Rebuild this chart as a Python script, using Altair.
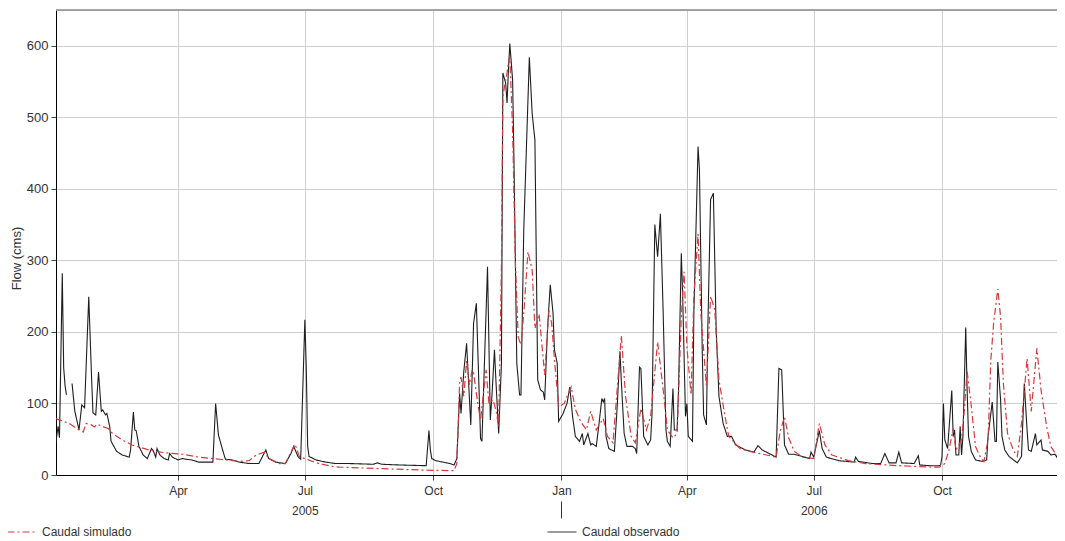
import pandas as pd
import altair as alt

# ---- data (day = days since 2005-01-01) ----
# Caudal observado: first block (before a short gap in the record)
obs_a_day = [2, 4, 5, 7, 8, 9, 10]
obs_a_val = [40, 68, 52, 282, 150, 125, 112]

# Caudal observado: rest of the record
obs_b_day = [14, 16, 19, 21, 23, 26, 28, 29, 31, 33, 35, 36, 38, 39, 41, 42, 46, 50, 55, 56,
             58, 59, 60, 62, 65, 68, 71, 72, 74, 75, 77, 80, 83, 84, 86, 90, 93, 96, 100, 105,
             115, 117, 119, 122, 124, 129, 134, 141, 148, 153, 155, 160, 167, 171, 173, 176, 178, 181, 182, 183,
             184, 189, 196, 203, 213, 230, 233, 236, 249, 268, 270, 271, 272, 275, 285, 288, 290, 292, 293, 295,
             297, 300, 302, 304, 307, 308, 312, 314, 315, 317, 318, 320, 322, 323, 325, 326, 327, 328, 330, 331,
             333, 335, 336, 338, 342, 344, 346, 348, 350, 352, 353, 355, 357, 359, 360, 362, 363, 366, 369, 371,
             373, 375, 378, 380, 381, 384, 386, 387, 390, 392, 394, 395, 396, 397, 399, 403, 405, 407, 408, 410,
             412, 416, 418, 419, 421, 422, 424, 427, 429, 430, 432, 434, 436, 438, 440, 441, 443, 445, 446, 448,
             449, 451, 452, 454, 455, 456, 459, 460, 463, 464, 466, 467, 469, 470, 472, 474, 476, 478, 481, 484,
             487, 490, 497, 503, 506, 509, 519, 521, 523, 525, 528, 532, 543, 544, 546, 550, 552, 555, 564, 575,
             576, 578, 588, 594, 597, 600, 605, 607, 609, 618, 621, 622, 629, 636, 637, 638, 639, 640, 642, 645,
             646, 647, 648, 650, 651, 652, 653, 655, 656, 657, 659, 662, 667, 670, 671, 674, 676, 677, 678, 680,
             681, 683, 686, 692, 695, 697, 699, 700, 702, 705, 706, 709, 710, 714, 716, 719, 721, 724, 726]
obs_b_val = [128, 89, 63, 98, 94, 249, 137, 87, 84, 144, 89, 91, 84, 86, 68, 47, 33, 28, 25, 35,
             88, 63, 62, 40, 28, 23, 37, 35, 25, 37, 28, 23, 21, 30, 25, 21, 23, 22, 21, 18,
             18, 100, 56, 35, 22, 21, 18, 16, 16, 35, 23, 18, 16, 30, 40, 26, 22, 217, 150, 40,
             26, 21, 18, 16, 16, 15, 17, 15, 14, 13, 62, 35, 23, 20, 16, 14, 23, 114, 86, 145,
             184, 70, 212, 240, 51, 47, 291, 77, 105, 175, 133, 58, 156, 562, 548, 520, 566, 603, 552, 436,
             156, 112, 112, 343, 584, 506, 468, 133, 119, 116, 105, 203, 266, 226, 175, 156, 75, 85, 100, 123,
             82, 54, 47, 58, 42, 58, 42, 44, 40, 72, 107, 102, 107, 54, 37, 33, 95, 173, 130, 58,
             40, 40, 37, 30, 151, 149, 54, 42, 49, 86, 350, 305, 365, 226, 63, 47, 40, 121, 63, 63,
             119, 310, 249, 82, 100, 54, 47, 226, 459, 427, 175, 84, 70, 203, 385, 394, 203, 110, 72, 54,
             54, 42, 35, 32, 41, 35, 25, 149, 147, 42, 29, 29, 23, 32, 25, 62, 37, 25, 20, 18,
             25, 19, 16, 16, 30, 17, 17, 32, 17, 16, 27, 14, 13, 13, 14, 26, 100, 49, 37, 118,
             54, 63, 28, 28, 68, 28, 54, 206, 119, 54, 33, 21, 19, 21, 54, 102, 47, 47, 158, 105,
             54, 35, 26, 17, 26, 128, 63, 35, 33, 58, 42, 49, 35, 33, 28, 29, 23, 35, 37]

# Caudal simulado
sim_day = [2, 12, 19, 22, 24, 28, 30, 32, 37, 40, 43, 50, 57, 69, 81, 93, 105, 120, 134, 141,
           146, 152, 155, 163, 167, 171, 174, 177, 182, 191, 201, 206, 234, 263, 288, 290, 291, 292, 293, 295,
           297, 299, 301, 302, 305, 307, 311, 313, 316, 318, 320, 322, 323, 325, 326, 327, 328, 330, 332, 334,
           336, 338, 341, 344, 346, 349, 353, 356, 358, 360, 362, 363, 367, 372, 375, 379, 383, 386, 390, 395,
           398, 402, 408, 411, 415, 418, 422, 426, 429, 434, 438, 441, 445, 448, 451, 453, 455, 458, 460, 463,
           465, 469, 472, 475, 478, 482, 485, 493, 500, 512, 519, 522, 525, 528, 532, 538, 546, 550, 554, 559,
           571, 583, 607, 631, 636, 640, 643, 646, 648, 652, 654, 656, 659, 662, 666, 668, 671, 673, 675, 678,
           680, 682, 685, 689, 692, 695, 699, 702, 706, 709, 713, 716, 720, 723, 726]
sim_val = [79, 72, 63, 60, 72, 70, 67, 71, 67, 65, 58, 49, 42, 35, 31, 29, 25, 22, 19, 20,
           28, 32, 23, 16, 16, 32, 43, 26, 22, 16, 12, 11, 9, 7, 6, 16, 71, 130, 137, 110,
           160, 126, 147, 143, 100, 77, 147, 100, 105, 91, 68, 296, 529, 552, 562, 576, 585, 482, 296, 193,
           182, 226, 312, 287, 205, 225, 140, 230, 212, 161, 119, 95, 100, 123, 92, 74, 63, 89, 63, 79,
           54, 45, 195, 110, 54, 45, 93, 63, 82, 186, 119, 63, 52, 58, 221, 284, 179, 112, 249, 337,
           226, 124, 250, 231, 133, 86, 54, 37, 33, 28, 25, 62, 81, 52, 33, 25, 23, 72, 42, 28,
           20, 16, 13, 11, 11, 16, 35, 65, 35, 49, 91, 145, 96, 40, 23, 19, 49, 161, 212, 260,
           221, 128, 58, 35, 26, 72, 163, 89, 177, 119, 68, 40, 28, 23, 22]

SIM = "Caudal simulado"
OBS = "Caudal observado"
y_ticks = [0, 100, 200, 300, 400, 500, 600]

base = pd.Timestamp("2005-01-01")


def to_dates(days):
    return [(base + pd.Timedelta(days=d)).strftime("%Y-%m-%dT00:00:00") for d in days]


obs_df = pd.concat([
    pd.DataFrame({"date": to_dates(obs_a_day), "flow": obs_a_val, "seg": 0}),
    pd.DataFrame({"date": to_dates(obs_b_day), "flow": obs_b_val, "seg": 1}),
])
obs_df["series"] = OBS
sim_df = pd.DataFrame({"date": to_dates(sim_day), "flow": sim_val, "seg": 0})
sim_df["series"] = SIM

FONT = "Liberation Sans"
TXT = "#333333"

x_scale = alt.Scale(domain=[alt.DateTime(year=2005, month=1, date=3, hours=12),
                            alt.DateTime(year=2006, month=12, date=22, hours=11)])
y_scale = alt.Scale(domain=[0, 650], nice=False)

quarters = [alt.DateTime(year=2005, month=4, date=1), alt.DateTime(year=2005, month=7, date=1),
            alt.DateTime(year=2005, month=10, date=1), alt.DateTime(year=2006, month=1, date=1),
            alt.DateTime(year=2006, month=4, date=1), alt.DateTime(year=2006, month=7, date=1),
            alt.DateTime(year=2006, month=10, date=1)]

month_axis = alt.Axis(values=quarters, format="%b", title=None, orient="bottom",
                      grid=True, gridColor="#cfcfcf", gridWidth=1,
                      domainColor="#000000", domainWidth=1,
                      tickSize=5, tickColor="#444444",
                      labelFont=FONT, labelFontSize=12, labelColor=TXT, labelPadding=5,
                      labelFlush=False, labelOverlap=False)

year_axis = alt.Axis(values=[alt.DateTime(year=2005, month=7, date=1),
                             alt.DateTime(year=2006, month=1, date=1),
                             alt.DateTime(year=2006, month=7, date=1)],
                     orient="bottom", offset=26, title=None, domain=False, grid=False,
                     tickSize=17,
                     tickColor={"condition": {"test": "month(datum.value) == 0", "value": "#333333"},
                                "value": "transparent"},
                     labelExpr="month(datum.value) == 6 ? timeFormat(datum.value, '%Y') : ''",
                     labelPadding=-13, labelFont=FONT, labelFontSize=12, labelColor=TXT,
                     labelFlush=False, labelOverlap=False)

y_axis = alt.Axis(values=y_ticks, title="Flow (cms)", grid=True, gridColor="#cfcfcf", gridWidth=1,
                  domainColor="#000000", tickSize=5, tickColor="#444444",
                  labelFont=FONT, labelFontSize=13, labelColor=TXT, labelPadding=3,
                  titleFont=FONT, titleFontSize=13, titleColor=TXT, titleFontWeight="normal",
                  titleAngle=270, titleX=-40, titleY=248, titleBaseline="middle", titleAlign="center")

legend = alt.Legend(title=None, orient="none", legendX=-49, legendY=507, direction="horizontal",
                    symbolType="stroke", symbolSize=841, symbolStrokeWidth=1,
                    labelFont=FONT, labelFontSize=12, labelColor=TXT, labelOffset=5,
                    columnPadding=413)

color = alt.Color("series:N", scale=alt.Scale(domain=[SIM, OBS], range=["#d8393c", "#1e1e1e"]),
                  legend=legend)
dash = alt.StrokeDash("series:N", scale=alt.Scale(domain=[SIM, OBS], range=[[7, 3, 2, 3], [1, 0]]),
                      legend=legend)
y_enc = alt.Y("flow:Q", scale=y_scale, axis=y_axis)

obs_line = alt.Chart(obs_df).mark_line(strokeWidth=1.1, clip=True).encode(
    x=alt.X("date:T", scale=x_scale, axis=month_axis),
    y=y_enc,
    color=color,
    strokeDash=dash,
    detail="seg:N",
)

sim_line = alt.Chart(sim_df).mark_line(strokeWidth=1.2, clip=True).encode(
    x=alt.X("date:T", scale=x_scale, axis=year_axis),
    y=y_enc,
    color=color,
    strokeDash=dash,
)

top_border = alt.Chart(alt.Data(values=[{}])).mark_rule(color="#8a8a8a", strokeWidth=1.5).encode(
    y=alt.value(0)
)

chart = alt.layer(obs_line, sim_line, top_border).resolve_axis(x="independent").properties(
    width=1001,
    height=465,
    autosize=alt.AutoSizeParams(type="none"),
    padding={"left": 48, "top": 2, "right": 0, "bottom": 66},
    background="white",
).configure_view(stroke=None).configure(font=FONT)

chart.save("out.html", embed_options={"renderer": "svg", "actions": False})
